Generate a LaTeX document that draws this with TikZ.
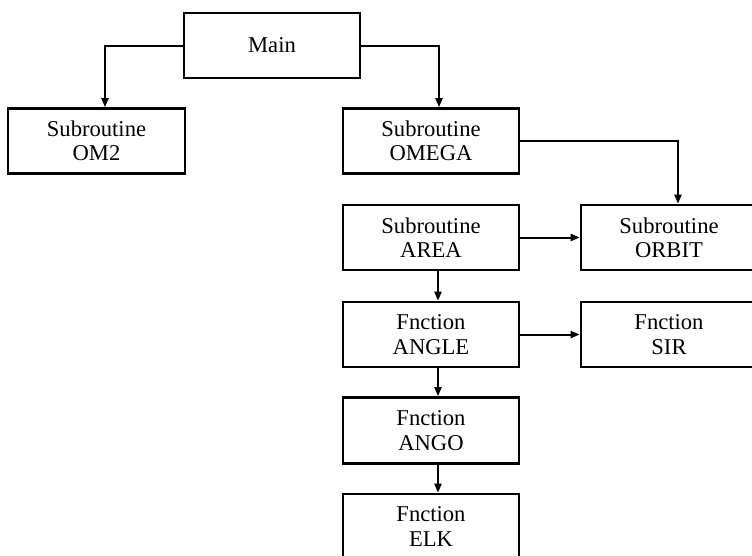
\documentclass[tikz,border=0pt]{standalone}
\usepackage{fontspec}
\setmainfont{Liberation Serif}
\usetikzlibrary{arrows.meta}
\begin{document}
\begin{tikzpicture}[x=1pt,y=-1pt,
  box/.style={draw,line width=2.6pt,minimum width=176pt,minimum height=65pt,inner sep=0pt,
    align=center,font=\fontsize{22.6}{24.3}\selectfont},
  conn/.style={line width=2pt,-{Triangle[length=9pt,width=7pt]}}]
\useasboundingbox (0,0) rectangle (752,555);
\clip (0,0) rectangle (752,555);
\node[box] (main) at (272,45.5) {Main};
\node[box,minimum width=177pt] (om2) at (96.5,141) {Subroutine\\OM2};
\node[box] (omega) at (431,141) {Subroutine\\OMEGA};
\node[box] (area) at (431,237.5) {Subroutine\\AREA};
\node[box] (orbit) at (669,237.5) {Subroutine\\ORBIT};
\node[box] (angle) at (431,334.5) {Fnction\\ANGLE};
\node[box] (sir) at (669,334.5) {Fnction\\SIR};
\node[box,minimum height=66pt] (ango) at (431,430.5) {Fnction\\ANGO};
\node[box] (elk) at (431,526.5) {Fnction\\ELK};
\draw[conn] (main.west) -| ([xshift=8.5pt]om2.north);
\draw[conn] (main.east) -| ([xshift=8pt]omega.north);
\draw[conn] (omega.east) -| ([xshift=9pt]orbit.north);
\draw[conn] (area.east) -- (orbit.west);
\draw[conn] (angle.east) -- (sir.west);
\draw[conn] ([xshift=7pt]area.south) -- ([xshift=7pt]angle.north);
\draw[conn] ([xshift=7pt]angle.south) -- ([xshift=7pt]ango.north);
\draw[conn] ([xshift=7pt]ango.south) -- ([xshift=7pt]elk.north);
\end{tikzpicture}
\end{document}
